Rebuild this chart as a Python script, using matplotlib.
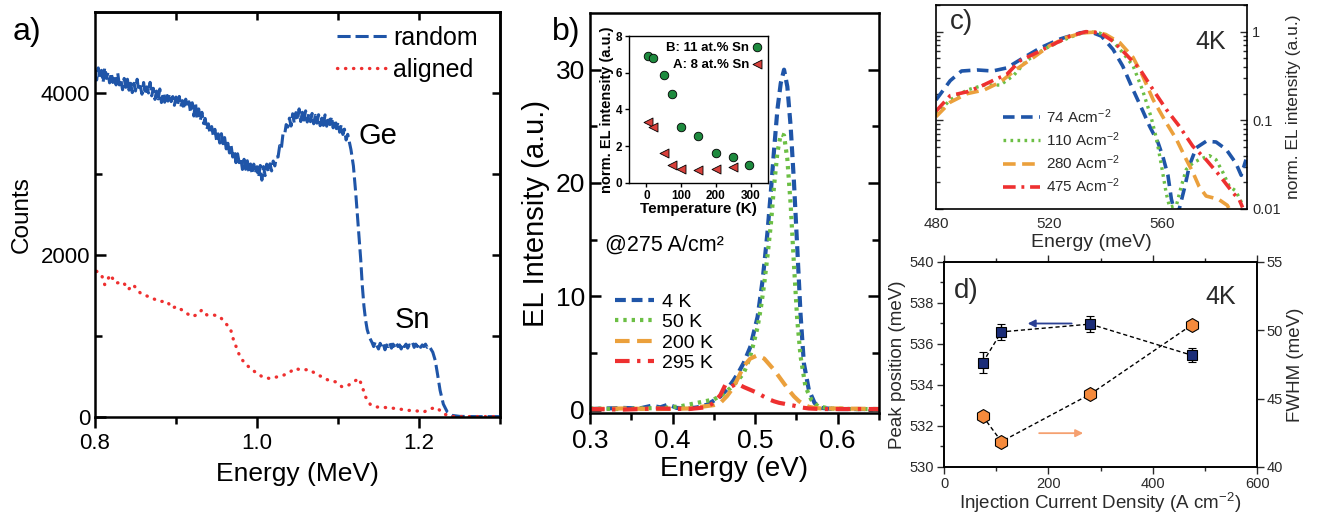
import numpy as np
import matplotlib
matplotlib.use("Agg")
import matplotlib.pyplot as plt
from matplotlib.ticker import LogLocator, NullFormatter, FixedLocator

plt.rcParams['font.family'] = ['Liberation Sans', 'DejaVu Sans']
plt.rcParams['mathtext.fontset'] = 'custom'
plt.rcParams['mathtext.rm'] = 'Liberation Sans'
plt.rcParams['mathtext.it'] = 'Liberation Sans:italic'

# ---- panel a: RBS spectra (noise included)
rand_e = [0.800, 0.802, 0.804, 0.806, 0.808, 0.810, 0.812, 0.814, 0.816, 0.818,
          0.820, 0.822, 0.824, 0.826, 0.828, 0.830, 0.832, 0.834, 0.836, 0.838,
          0.840, 0.842, 0.844, 0.846, 0.848, 0.850, 0.852, 0.854, 0.856, 0.858,
          0.860, 0.862, 0.864, 0.866, 0.868, 0.870, 0.872, 0.874, 0.876, 0.878,
          0.880, 0.882, 0.884, 0.886, 0.888, 0.890, 0.892, 0.894, 0.896, 0.898,
          0.900, 0.902, 0.904, 0.906, 0.908, 0.910, 0.912, 0.914, 0.916, 0.918,
          0.920, 0.922, 0.924, 0.926, 0.928, 0.930, 0.932, 0.934, 0.936, 0.938,
          0.940, 0.942, 0.944, 0.946, 0.948, 0.950, 0.952, 0.954, 0.956, 0.958,
          0.960, 0.962, 0.964, 0.966, 0.968, 0.970, 0.972, 0.974, 0.976, 0.978,
          0.980, 0.982, 0.984, 0.986, 0.988, 0.990, 0.992, 0.994, 0.996, 0.998,
          1.000, 1.002, 1.004, 1.006, 1.008, 1.010, 1.012, 1.014, 1.016, 1.018,
          1.020, 1.022, 1.024, 1.026, 1.028, 1.030, 1.032, 1.034, 1.036, 1.038,
          1.040, 1.042, 1.044, 1.046, 1.048, 1.050, 1.052, 1.054, 1.056, 1.058,
          1.060, 1.062, 1.064, 1.066, 1.068, 1.070, 1.072, 1.074, 1.076, 1.078,
          1.080, 1.082, 1.084, 1.086, 1.088, 1.090, 1.092, 1.094, 1.096, 1.098,
          1.100, 1.102, 1.104, 1.106, 1.108, 1.110, 1.112,
          1.116, 1.119, 1.122, 1.125, 1.128, 1.130, 1.132, 1.134, 1.136, 1.139,
          1.142, 1.144, 1.146, 1.148, 1.150, 1.152, 1.154, 1.156, 1.158, 1.160,
          1.162, 1.164, 1.166, 1.168, 1.170, 1.172, 1.174, 1.176, 1.178, 1.180,
          1.182, 1.184, 1.186, 1.188, 1.190, 1.192, 1.194, 1.196, 1.198, 1.200,
          1.202, 1.204, 1.206, 1.208, 1.210, 1.212, 1.214, 1.217, 1.220,
          1.223, 1.226, 1.230, 1.235, 1.241, 1.250, 1.270, 1.300]
rand_c = [4280, 4160, 4310, 4180, 4280, 4130, 4315, 4180, 4250, 4125,
          4250, 4130, 4210, 4100, 4250, 4100, 4160, 4040, 4180, 4070,
          4170, 4035, 4120, 4005, 4120, 4025, 4170, 4025, 4080, 3985,
          4130, 3983, 4076, 4000, 4132, 3965, 4058, 3921, 4024, 3927,
          4050, 3882, 4004, 3886, 3998, 3900, 3992, 3894, 3956, 3848,
          3950, 3854, 3958, 3832, 3906, 3800, 3924, 3818, 3892, 3756,
          3880, 3716, 3882, 3688, 3804, 3660, 3762, 3624, 3686, 3548,
          3620, 3498, 3586, 3474, 3552, 3420, 3496, 3382, 3498, 3374,
          3450, 3310, 3380, 3260, 3350, 3210, 3280, 3140, 3250, 3140,
          3200, 3056, 3182, 3058, 3164, 3020, 3124, 2998, 3122, 3006,
          3090, 2958, 3106, 2924, 3092, 2980, 3122, 3024, 3126, 3038,
          3160, 3100, 3210, 3210, 3350, 3310, 3490, 3480, 3610, 3580,
          3690, 3592, 3744, 3626, 3758, 3660, 3804, 3648, 3762, 3666,
          3780, 3642, 3744, 3646, 3748, 3620, 3724, 3628, 3732, 3596,
          3690, 3600, 3730, 3590, 3710, 3610, 3710, 3570, 3670, 3560,
          3640, 3516, 3612, 3488, 3554, 3420, 3490,
          3300, 3100, 2750, 2350, 1950, 1620, 1370, 1200, 1080, 980,
          920, 870, 930, 880, 840, 910, 860, 900, 830, 890,
          870, 920, 850, 900, 860, 910, 870, 890, 840, 910,
          870, 900, 850, 890, 880, 920, 860, 900, 870, 910,
          860, 890, 870, 900, 860, 880, 850, 800, 700,
          520, 330, 160, 60, 20, 8, 5, 5]
align_e = [0.802, 0.808, 0.812, 0.819, 0.825, 0.835, 0.841, 0.847, 0.856, 0.868,
           0.880, 0.889, 0.895, 0.901, 0.907, 0.913, 0.919, 0.926, 0.932, 0.938,
           0.946, 0.954, 0.961, 0.967, 0.971, 0.975, 0.979, 0.985, 0.992, 1.000,
           1.008, 1.016, 1.025, 1.033, 1.041, 1.047, 1.055, 1.064, 1.072, 1.080,
           1.088, 1.097, 1.105, 1.113, 1.119, 1.126, 1.130, 1.134, 1.140, 1.148,
           1.161, 1.173, 1.186, 1.198, 1.206, 1.214, 1.222, 1.230, 1.239, 1.250,
           1.265, 1.280, 1.300]
align_c = [1799, 1758, 1634, 1758, 1654, 1663, 1572, 1634, 1530, 1477,
           1427, 1427, 1344, 1365, 1323, 1282, 1241, 1261, 1323, 1261,
           1261, 1241, 1158, 1096, 951, 848, 744, 662, 600, 538,
           488, 476, 496, 517, 558, 600, 579, 587, 538, 496,
           455, 434, 372, 393, 434, 476, 372, 248, 153, 124,
           116, 103, 83, 74, 62, 103, 116, 41, 8, 5,
           5, 5, 5]

# ---- panel b: EL spectra vs temperature
e4 = [0.30, 0.32, 0.34, 0.36, 0.375, 0.385, 0.395, 0.405, 0.42, 0.43, 0.442, 0.45,
      0.458, 0.466, 0.474, 0.48, 0.486, 0.49, 0.494, 0.498, 0.503, 0.506, 0.509,
      0.512, 0.515, 0.519, 0.523, 0.527, 0.531, 0.535, 0.539, 0.543, 0.547, 0.551,
      0.555, 0.559, 0.565, 0.572, 0.58, 0.59, 0.60, 0.62, 0.65]
i4 = [0.05, 0.1, 0.15, 0.1, 0.35, 0.2, 0.45, 0.15, 0.1, 0.2, 0.44, 0.8,
      1.17, 1.8, 2.6, 3.3, 4.1, 4.8, 5.5, 6.7, 8.2, 9.8, 11.4,
      13.5, 15.7, 19.2, 23.0, 26.5, 28.8, 30.0, 28.5, 25.0, 20.1, 14.3,
      8.4, 4.1, 1.75, 0.58, 0.15, 0.08, 0.05, 0.05, 0.05]
e50 = [0.30, 0.33, 0.36, 0.39, 0.41, 0.43, 0.45, 0.46, 0.47, 0.478, 0.486, 0.49,
       0.494, 0.498, 0.503, 0.507, 0.511, 0.515, 0.519, 0.523, 0.527, 0.531, 0.535,
       0.539, 0.543, 0.547, 0.551, 0.555, 0.561, 0.568, 0.576, 0.59, 0.62, 0.65]
i50 = [0.1, 0.05, 0.1, 0.15, 0.3, 0.6, 0.9, 1.3, 1.9, 2.5, 3.2, 3.9,
       4.7, 5.8, 7.3, 9.0, 11.1, 13.6, 16.3, 19.8, 22.7, 24.3, 24.2,
       22.1, 18.1, 12.8, 7.9, 4.7, 2.0, 0.87, 0.3, 0.1, 0.05, 0.05]
e200 = [0.30, 0.34, 0.38, 0.42, 0.44, 0.45, 0.458, 0.466, 0.474, 0.48, 0.486, 0.494,
        0.503, 0.511, 0.517, 0.523, 0.529, 0.535, 0.541, 0.547, 0.553, 0.559, 0.565,
        0.572, 0.58, 0.60, 0.65]
i200 = [0.05, 0.1, 0.05, 0.1, 0.3, 0.4, 0.6, 1.2, 2.0, 2.9, 3.8, 4.5,
        4.8, 4.5, 4.0, 3.5, 2.9, 2.3, 1.7, 1.17, 0.75, 0.44, 0.25,
        0.15, 0.1, 0.1, 0.05]
e295 = [0.30, 0.34, 0.38, 0.42, 0.44, 0.45, 0.458, 0.464, 0.47, 0.478, 0.486, 0.494,
        0.502, 0.51, 0.517, 0.523, 0.529, 0.535, 0.541, 0.547, 0.555, 0.565, 0.58,
        0.60, 0.65]
i295 = [0.05, 0.0, 0.1, 0.05, 0.2, 0.6, 1.3, 2.2, 2.0, 2.3, 2.0, 1.75,
        1.5, 1.17, 0.9, 0.73, 0.6, 0.52, 0.42, 0.35, 0.2, 0.1, 0.05,
        0.05, 0.05]

# inset
temp_b = [5, 20, 50, 75, 100, 150, 200, 250, 295]
norm_b = [6.9, 6.8, 5.9, 4.85, 3.05, 2.55, 1.65, 1.4, 1.0]
temp_a = [5, 20, 50, 75, 100, 150, 200, 250]
norm_a = [3.3, 3.05, 1.65, 1.0, 0.75, 0.7, 0.75, 0.85]

# ---- panel c: normalised spectra at 4K
c74_e = [480, 485, 489, 494.5, 500, 505, 511, 517, 524, 531, 534.5, 538.5, 542.6,
         546, 549.7, 553, 555.5, 558.5, 560.2, 562, 563.2, 564.4, 566, 568, 569.6,
         572, 575.5, 579, 582.6, 586, 587.9, 589.6]
c74_i = [0.17, 0.28, 0.36, 0.37, 0.36, 0.39, 0.51, 0.66, 0.83, 0.97, 1.0, 0.89, 0.63,
         0.41, 0.22, 0.13, 0.086, 0.056, 0.039, 0.024, 0.013, 0.0091, 0.01, 0.018, 0.031,
         0.049, 0.058, 0.057, 0.047, 0.033, 0.024, 0.036]
c110_e = [480, 485, 491, 497, 502.7, 507.4, 512, 518, 524, 530, 534, 538, 542,
          546, 549.7, 553, 556, 558, 559.7, 561.4, 562.6, 565, 566.7, 568.5, 570.8,
          573, 576.7, 579, 581.4, 583.7, 586, 588.5]
c110_i = [0.117, 0.17, 0.22, 0.25, 0.25, 0.32, 0.47, 0.63, 0.78, 0.93, 1.0, 0.96, 0.82,
          0.58, 0.41, 0.22, 0.11, 0.061, 0.031, 0.015, 0.0105, 0.011, 0.018, 0.028, 0.033,
          0.036, 0.04, 0.036, 0.026, 0.018, 0.016, 0.011]
c280_e = [480, 485, 491, 497, 502.7, 508.6, 514.4, 520, 526, 532, 536.6, 540, 545,
          549.7, 553, 556.8, 561.4, 565, 568.5, 570.8, 573, 575.5, 577.8, 580, 583, 583.7]
c280_i = [0.11, 0.16, 0.2, 0.22, 0.27, 0.38, 0.51, 0.69, 0.86, 0.97, 0.99, 0.93, 0.75,
          0.51, 0.32, 0.17, 0.094, 0.061, 0.036, 0.026, 0.018, 0.014, 0.0134, 0.0128, 0.011, 0.01]
c475_e = [480, 485, 491, 495.6, 501, 505, 509.7, 515.6, 521.5, 527.4, 533, 538, 542.6,
          547.3, 552, 556.8, 561.4, 566, 570.8, 575.5, 580.2, 585, 587.2, 588.4]
c475_i = [0.127, 0.19, 0.21, 0.24, 0.29, 0.33, 0.47, 0.58, 0.72, 0.89, 1.0, 0.97, 0.78,
          0.55, 0.38, 0.22, 0.133, 0.086, 0.051, 0.036, 0.024, 0.0152, 0.0128, 0.0104]

# ---- panel d: peak position and FWHM vs current density
j_dens = [74, 110, 280, 475]
peak_pos = [535.09, 536.59, 536.97, 535.45]
peak_err = [0.5, 0.4, 0.38, 0.35]
fwhm = [43.73, 41.86, 45.32, 50.4]

blue = '#1f55a8'
red = '#ee3030'
green = '#6cbf45'
orange = '#eba03c'
grey = '#2a2a2a'

fig = plt.figure(figsize=(13.27, 5.13), dpi=100)

# ================= a)
ax = fig.add_axes([0.0716, 0.1871, 0.3052, 0.7895])
ax.plot(rand_e, rand_c, color=blue, lw=2.2, dashes=(4.3, 1.6), label='random')
ax.plot(align_e, align_c, color=red, lw=2.4, ls=(0, (0.1, 2.3)),
        dash_capstyle='round', label='aligned')
ax.set_xlim(0.8, 1.3)
ax.set_ylim(0, 5000)
ax.set_xticks([0.8, 1.0, 1.2])
ax.set_xticklabels(['0.8', '1.0', '1.2'])
ax.set_xticks([0.9, 1.1, 1.3], minor=True)
ax.set_yticks([0, 2000, 4000])
ax.set_yticks([1000, 3000], minor=True)
ax.tick_params(axis='x', which='both', direction='out', labelsize=16, width=1.8)
ax.tick_params(axis='y', which='both', direction='in', labelsize=16, width=1.8)
ax.tick_params(which='major', length=8)
ax.tick_params(which='minor', length=5)
sx = ax.secondary_xaxis('top')
sx.set_xticks([0.9, 1.0, 1.1, 1.2])
sx.tick_params(direction='in', length=6, width=1.8, labeltop=False)
sy = ax.secondary_yaxis('right')
sy.set_yticks([1000, 2000, 3000, 4000])
sy.tick_params(direction='in', length=6, width=1.8, labelright=False)
for sp in list(ax.spines.values()) + [sx.spines['top'], sy.spines['right']]:
    sp.set_linewidth(1.8)
ax.set_xlabel('Energy (MeV)', fontsize=19, labelpad=6)
ax.set_ylabel('Counts', fontsize=17.5, labelpad=6)
ax.text(1.125, 3470, 'Ge', fontsize=21, va='center')
ax.text(1.170, 1200, 'Sn', fontsize=21, va='center')
ax.legend(loc='upper left', bbox_to_anchor=(0.598, 0.965), frameon=False, fontsize=18,
          handlelength=2.0, handletextpad=0.25, labelspacing=0.3, borderpad=0,
          borderaxespad=0)
fig.text(0.0098, 0.922, 'a)', fontsize=23)

# ================= b)
bx = fig.add_axes([0.4446, 0.1949, 0.2178, 0.7797])
bx.plot(e4, i4, color=blue, lw=3.0, dashes=(2.6, 1.4), label='4 K')
bx.plot(e50, i50, color=green, lw=3.0, ls=(0, (0.8, 1.2)), label='50 K')
bx.plot(e200, i200, color=orange, lw=3.0, dashes=(3.5, 1.8), label='200 K')
bx.plot(e295, i295, color=red, lw=3.0, ls=(0, (3.5, 1.8, 0.8, 1.8)), label='295 K')
bx.set_xlim(0.3, 0.65)
bx.set_ylim(-0.3, 35)
bx.set_xticks([0.3, 0.4, 0.5, 0.6])
bx.set_xticks([0.35, 0.45, 0.55, 0.65], minor=True)
bx.set_yticks([0, 10, 20, 30])
bx.set_yticks([5, 15, 25], minor=True)
bx.tick_params(axis='x', which='both', direction='out', labelsize=19, width=1.8)
bx.tick_params(axis='y', which='both', direction='in', labelsize=19, width=1.8,
               right=True)
bx.tick_params(which='major', length=8)
bx.tick_params(which='minor', length=5)
for sp in bx.spines.values():
    sp.set_linewidth(1.8)
bx.set_xlabel('Energy (eV)', fontsize=20, labelpad=2)
bx.set_ylabel('EL Intensity (a.u.)', fontsize=21, labelpad=4)
bx.text(0.318, 14.5, '@275 A/cm²', fontsize=15.5, va='center')
bx.legend(loc='upper left', bbox_to_anchor=(0.087, 0.3), frameon=False, fontsize=14,
          handlelength=2.0, handletextpad=0.4, labelspacing=0.15, borderpad=0,
          borderaxespad=0)
fig.text(0.416, 0.922, 'b)', fontsize=23)

# inset
ix = fig.add_axes([0.4740, 0.6433, 0.1047, 0.2865])
ix.scatter(temp_b, norm_b, s=38, marker='o', color='#1e8a3e', edgecolor='black',
           linewidth=0.6, zorder=3, label='B: 11 at.% Sn')
ix.scatter(temp_a, norm_a, s=42, marker='<', color='#d8403b', edgecolor='black',
           linewidth=0.6, zorder=3, label='A: 8 at.% Sn')
ix.set_xlim(-50, 350)
ix.set_ylim(0, 8)
ix.set_xticks([0, 100, 200, 300])
ix.set_yticks([0, 2, 4, 6, 8])
ix.tick_params(direction='out', length=3, labelsize=8.5, width=1.0, pad=2)
for lab in ix.get_xticklabels() + ix.get_yticklabels():
    lab.set_fontweight('bold')
for sp in ix.spines.values():
    sp.set_linewidth(1.0)
ix.set_xlabel('Temperature (K)', fontsize=11, fontweight='bold', labelpad=0)
ix.set_ylabel('norm. EL intensity (a.u.)', fontsize=10.5, fontweight='bold', labelpad=1)
ix.legend(loc='upper right', bbox_to_anchor=(1.0, 0.98), frameon=False,
          markerfirst=False, handletextpad=0.0, labelspacing=0.35, borderpad=0.1,
          borderaxespad=0.1, handlelength=1.2, prop={'weight': 'bold', 'size': 9.5})

# ================= c)
cx = fig.add_axes([0.7054, 0.5926, 0.2344, 0.3977])
cx.plot(c74_e, c74_i, color=blue, lw=2.6, dashes=(3.2, 1.8), label='74 Acm$^{-2}$')
cx.plot(c110_e, c110_i, color=green, lw=2.4, ls=(0, (0.8, 1.3)), label='110 Acm$^{-2}$')
cx.plot(c280_e, c280_i, color=orange, lw=2.6, dashes=(3.5, 1.8), label='280 Acm$^{-2}$')
cx.plot(c475_e, c475_i, color=red, lw=2.6, ls=(0, (3.5, 1.6, 0.8, 1.6)),
        label='475 Acm$^{-2}$')
cx.set_yscale('log')
cx.set_xlim(480, 590)
cx.set_ylim(0.01, 2.0)
cx.set_xticks([480, 520, 560])
cx.yaxis.set_major_locator(FixedLocator([0.01, 0.1, 1]))
cx.yaxis.set_minor_locator(LogLocator(base=10, subs=np.arange(2, 10)))
cx.yaxis.set_minor_formatter(NullFormatter())
cx.set_yticklabels(['0.01', '0.1', '1'])
cx.tick_params(axis='y', which='both', direction='in', left=True, right=True,
               labelleft=False, labelright=True, labelsize=10.5, colors=grey, width=1.0)
cx.tick_params(axis='y', which='major', length=5)
cx.tick_params(axis='y', which='minor', length=3)
cx.tick_params(axis='x', length=0, labelsize=11, colors=grey, pad=6)
for sp in cx.spines.values():
    sp.set_linewidth(1.2)
cx.yaxis.set_label_position('right')
cx.set_ylabel('norm. EL intensity (a.u.)', fontsize=12.5, color=grey, labelpad=4)
cx.set_xlabel('Energy (meV)', fontsize=14, color=grey, labelpad=2)
cx.text(0.884, 0.82, '4K', transform=cx.transAxes, fontsize=18, color=grey,
        ha='center', va='center')
cx.text(0.045, 0.915, 'c)', transform=cx.transAxes, fontsize=20, color=grey,
        va='center')
cx.legend(loc='upper left', bbox_to_anchor=(0.215, 0.5), frameon=False, fontsize=11,
          handlelength=2.4, handletextpad=0.45, labelspacing=0.3, labelcolor=grey,
          borderpad=0, borderaxespad=0)

# ================= d)
dx = fig.add_axes([0.7114, 0.0897, 0.2359, 0.3996])
dx2 = dx.twinx()
dx.plot(j_dens, peak_pos, color='black', lw=1.0, ls=(0, (3, 2)), zorder=2)
dx.errorbar(j_dens, peak_pos, yerr=peak_err, fmt='s', ms=7, mfc='#1b2d78',
            mec='black', mew=0.8, ecolor='black', elinewidth=1.0, capsize=3,
            zorder=3)
dx2.plot(j_dens, fwhm, color='black', lw=1.0, ls=(0, (3, 2)), zorder=2)
dx2.plot(j_dens, fwhm, ls='none', marker='h', ms=10, mfc='#f58a3c', mec='black',
         mew=0.8, zorder=3)
dx.set_xlim(0, 600)
dx.set_ylim(530, 540)
dx2.set_ylim(40, 55)
dx.set_xticks([0, 200, 400, 600])
dx.set_xticks([100, 300, 500], minor=True)
dx.set_yticks([530, 532, 534, 536, 538, 540])
dx.set_yticks([531, 533, 535, 537, 539], minor=True)
dx2.set_yticks([40, 45, 50, 55])
dx.tick_params(which='both', direction='out', labelsize=10.5, colors=grey, width=1.0,
               top=True, pad=2)
dx.tick_params(which='major', length=5)
dx.tick_params(which='minor', length=3)
dx2.tick_params(direction='out', length=5, labelsize=10.5, colors=grey, width=1.0, pad=2)
for sp in list(dx.spines.values()) + list(dx2.spines.values()):
    sp.set_linewidth(1.2)
dx.set_xlabel('Injection Current Density (A cm$^{-2}$)', fontsize=13.5, color=grey,
              labelpad=0)
dx.set_ylabel('Peak position (meV)', fontsize=13.5, color=grey, labelpad=3)
dx2.set_ylabel('FWHM (meV)', fontsize=13.5, color=grey, labelpad=3)
dx.annotate('', xy=(155, 537.0), xytext=(250, 537.0),
            arrowprops=dict(arrowstyle='-|>', color='#2a3f93', lw=1.3,
                            mutation_scale=11))
dx.annotate('', xy=(272, 531.65), xytext=(177, 531.65),
            arrowprops=dict(arrowstyle='-|>', color='#f5a070', lw=1.3,
                            mutation_scale=11))
dx.text(0.885, 0.83, '4K', transform=dx.transAxes, fontsize=18, color=grey,
        ha='center', va='center')
dx.text(0.03, 0.86, 'd)', transform=dx.transAxes, fontsize=20, color=grey,
        va='center')

fig.savefig('out.png', dpi=100)
